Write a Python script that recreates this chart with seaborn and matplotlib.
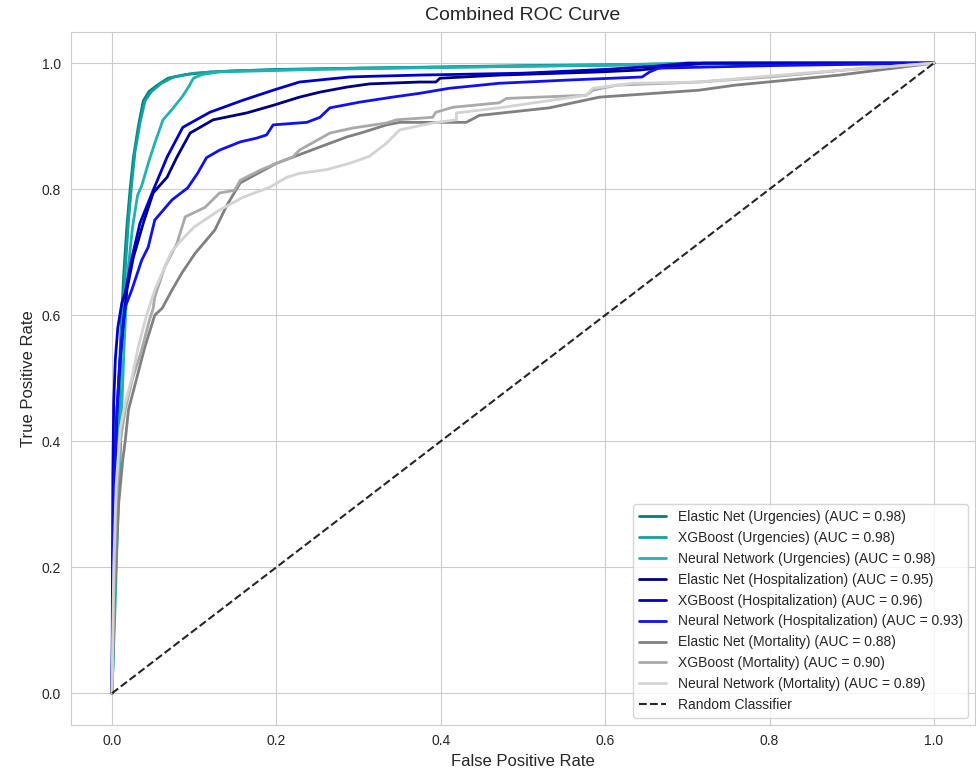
import pandas as pd
import matplotlib
matplotlib.use("Agg")
import matplotlib.pyplot as plt
import seaborn as sns

sns.set_style("whitegrid")
plt.rcParams['font.family'] = ['Liberation Sans', 'DejaVu Sans']

# ROC points (FPR, TPR)
en_urg_fpr = [0, 0.002, 0.004, 0.007, 0.011, 0.014, 0.018, 0.022, 0.026, 0.032, 0.038, 0.045, 0.055, 0.068, 0.09, 0.12, 0.2, 0.35, 0.5, 0.65, 0.75, 1.0]
en_urg_tpr = [0, 0.15, 0.3, 0.45, 0.58, 0.66, 0.74, 0.80, 0.85, 0.90, 0.94, 0.955, 0.965, 0.976, 0.982, 0.986, 0.99, 0.993, 0.996, 0.998, 1.0, 1.0]

xgb_urg_fpr = [0, 0.003, 0.006, 0.009, 0.012, 0.016, 0.020, 0.024, 0.028, 0.034, 0.040, 0.048, 0.06, 0.075, 0.1, 0.15, 0.3, 0.5, 0.7, 0.8, 1.0]
xgb_urg_tpr = [0, 0.15, 0.3, 0.45, 0.58, 0.67, 0.75, 0.81, 0.86, 0.905, 0.94, 0.955, 0.968, 0.978, 0.984, 0.988, 0.992, 0.995, 0.998, 1.0, 1.0]

nn_urg_fpr = [0, 0.004, 0.007, 0.010, 0.012, 0.015, 0.019, 0.025, 0.031, 0.036, 0.045, 0.052, 0.062, 0.072, 0.085, 0.093, 0.099, 0.11, 0.13, 0.25, 0.45, 0.6, 0.7, 1.0]
nn_urg_tpr = [0, 0.15, 0.28, 0.38, 0.46, 0.56, 0.667, 0.74, 0.79, 0.805, 0.845, 0.873, 0.91, 0.925, 0.946, 0.962, 0.976, 0.982, 0.986, 0.99, 0.994, 0.997, 1.0, 1.0]

en_hosp_fpr = [0, 0.001, 0.003, 0.006, 0.010, 0.014, 0.018, 0.026, 0.038, 0.050, 0.067, 0.079, 0.095, 0.123, 0.164, 0.196, 0.228, 0.253, 0.286, 0.313, 0.374, 0.394, 0.399, 0.471, 0.593, 0.642, 0.72, 1.0]
en_hosp_tpr = [0, 0.2, 0.35, 0.45, 0.53, 0.59, 0.64, 0.692, 0.746, 0.794, 0.819, 0.851, 0.889, 0.91, 0.921, 0.933, 0.946, 0.954, 0.962, 0.967, 0.970, 0.970, 0.976, 0.981, 0.986, 0.989, 1.0, 1.0]

xgb_hosp_fpr = [0, 0.0005, 0.001, 0.002, 0.004, 0.007, 0.012, 0.016, 0.024, 0.034, 0.050, 0.067, 0.086, 0.119, 0.159, 0.196, 0.228, 0.289, 0.313, 0.374, 0.5, 0.6, 0.66, 0.70, 1.0]
xgb_hosp_tpr = [0, 0.2, 0.35, 0.46, 0.53, 0.58, 0.62, 0.635, 0.69, 0.746, 0.798, 0.851, 0.898, 0.922, 0.941, 0.957, 0.970, 0.978, 0.979, 0.981, 0.984, 0.99, 0.995, 1.0, 1.0]

nn_hosp_fpr = [0, 0.001, 0.003, 0.006, 0.009, 0.013, 0.016, 0.024, 0.036, 0.044, 0.052, 0.073, 0.092, 0.104, 0.115, 0.131, 0.156, 0.176, 0.188, 0.196, 0.237, 0.253, 0.265, 0.301, 0.341, 0.374, 0.41, 0.471, 0.553, 0.645, 0.654, 0.665, 0.8, 1.0]
nn_hosp_tpr = [0, 0.2, 0.35, 0.45, 0.52, 0.58, 0.613, 0.640, 0.687, 0.708, 0.751, 0.783, 0.802, 0.825, 0.850, 0.862, 0.875, 0.881, 0.886, 0.902, 0.906, 0.914, 0.929, 0.938, 0.946, 0.952, 0.960, 0.968, 0.973, 0.978, 0.986, 0.992, 0.996, 1.0]

en_mort_fpr = [0, 0.003, 0.008, 0.013, 0.016, 0.02, 0.03, 0.04, 0.052, 0.061, 0.073, 0.085, 0.101, 0.125, 0.140, 0.156, 0.2, 0.253, 0.286, 0.305, 0.334, 0.35, 0.431, 0.447, 0.532, 0.593, 0.714, 0.758, 0.885, 1.0]
en_mort_tpr = [0, 0.15, 0.3, 0.37, 0.40, 0.45, 0.5, 0.55, 0.6, 0.611, 0.64, 0.667, 0.698, 0.735, 0.775, 0.81, 0.841, 0.867, 0.883, 0.890, 0.902, 0.906, 0.906, 0.917, 0.929, 0.946, 0.957, 0.965, 0.981, 1.0]

xgb_mort_fpr = [0, 0.002, 0.005, 0.01, 0.016, 0.025, 0.035, 0.045, 0.050, 0.052, 0.064, 0.079, 0.089, 0.113, 0.131, 0.149, 0.156, 0.18, 0.2, 0.22, 0.228, 0.257, 0.265, 0.293, 0.334, 0.346, 0.39, 0.394, 0.415, 0.471, 0.48, 0.577, 0.585, 0.614, 0.714, 0.8, 0.9, 1.0]
xgb_mort_tpr = [0, 0.15, 0.3, 0.4, 0.45, 0.5, 0.54, 0.59, 0.611, 0.629, 0.676, 0.714, 0.756, 0.771, 0.794, 0.798, 0.814, 0.830, 0.841, 0.851, 0.862, 0.883, 0.889, 0.897, 0.905, 0.910, 0.914, 0.922, 0.930, 0.937, 0.944, 0.949, 0.957, 0.965, 0.970, 0.978, 0.99, 1.0]

nn_mort_fpr = [0, 0.002, 0.005, 0.01, 0.016, 0.024, 0.032, 0.042, 0.052, 0.062, 0.072, 0.085, 0.1, 0.131, 0.159, 0.192, 0.213, 0.228, 0.261, 0.289, 0.313, 0.334, 0.35, 0.39, 0.419, 0.419, 0.471, 0.577, 0.585, 0.633, 0.714, 0.85, 1.0]
nn_mort_tpr = [0, 0.2, 0.33, 0.42, 0.46, 0.5, 0.55, 0.6, 0.64, 0.67, 0.70, 0.72, 0.74, 0.767, 0.787, 0.803, 0.819, 0.825, 0.831, 0.841, 0.852, 0.873, 0.894, 0.905, 0.910, 0.921, 0.929, 0.949, 0.960, 0.968, 0.970, 0.985, 1.0]

models = ['Elastic Net', 'XGBoost', 'Neural Network'] * 3
outcomes = ['Urgencies'] * 3 + ['Hospitalization'] * 3 + ['Mortality'] * 3
aucs = [0.98, 0.98, 0.98, 0.95, 0.96, 0.93, 0.88, 0.90, 0.89]
colors = ['#008080', '#12a0a0', '#20b2b2', '#000080', '#0000cd', '#1010f0', '#808080', '#a9a9a9', '#d3d3d3']
curves = [(en_urg_fpr, en_urg_tpr), (xgb_urg_fpr, xgb_urg_tpr), (nn_urg_fpr, nn_urg_tpr),
          (en_hosp_fpr, en_hosp_tpr), (xgb_hosp_fpr, xgb_hosp_tpr), (nn_hosp_fpr, nn_hosp_tpr),
          (en_mort_fpr, en_mort_tpr), (xgb_mort_fpr, xgb_mort_tpr), (nn_mort_fpr, nn_mort_tpr)]

frames = []
palette = {}
for model, outcome, auc, color, (fpr, tpr) in zip(models, outcomes, aucs, colors, curves):
    label = f'{model} ({outcome}) (AUC = {auc:.2f})'
    palette[label] = color
    frames.append(pd.DataFrame({'fpr': fpr, 'tpr': tpr, 'label': label}))
df = pd.concat(frames, ignore_index=True)

fig = plt.figure(figsize=(9.76, 7.71), dpi=100)
ax = fig.add_axes([0.0727, 0.060, 0.9263, 0.899])

sns.lineplot(data=df, x='fpr', y='tpr', hue='label', palette=palette,
             sort=False, estimator=None, linewidth=2, ax=ax)
ax.plot([0, 1], [0, 1], 'k--', linewidth=1.5, alpha=0.85, label='Random Classifier')

ax.set_xlim(-0.05, 1.05)
ax.set_ylim(-0.05, 1.05)
ax.set_xlabel('False Positive Rate', fontsize=12)
ax.set_ylabel('True Positive Rate', fontsize=12)
ax.set_title('Combined ROC Curve', fontsize=14, pad=8)
ax.legend(loc='lower right', fontsize=10)

plt.savefig('out.png', dpi=100)
plt.close()
